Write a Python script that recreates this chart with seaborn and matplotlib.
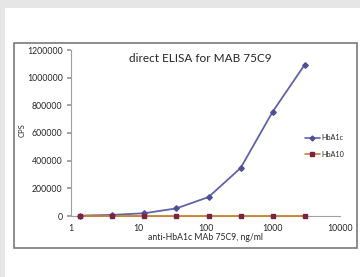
import pandas as pd
import matplotlib
matplotlib.use("Agg")
import matplotlib.pyplot as plt
import seaborn as sns
from matplotlib.lines import Line2D

# concentrations (ng/ml), threefold dilution series
conc = [1.37, 4.12, 12.3, 37.0, 111, 333, 1000, 3000]
hba1c = [3000, 8000, 20000, 55000, 137000, 347000, 755000, 1095000]
hba10 = [2000, 2000, 2000, 2000, 2000, 2000, 2000, 2000]
series_names = ["HbA1c", "HbA10"]
x_ticks = [1, 10, 100, 1000, 10000]
y_ticks = [0, 200000, 400000, 600000, 800000, 1000000, 1200000]

df = pd.DataFrame({
    "conc": conc * 2,
    "cps": hba1c + hba10,
    "series": [series_names[0]] * len(conc) + [series_names[1]] * len(conc),
})

sns.set_theme(style="white")
plt.rcParams["font.family"] = ["Lato", "DejaVu Sans"]

fig = plt.figure(figsize=(3.6, 2.77), dpi=100)
fig.patch.set_facecolor("#e6e6e6")
# white panel behind everything, chart border on top
fig.patches.append(plt.Rectangle((5 / 360, 0), 1, 1 - 8 / 277, transform=fig.transFigure,
                                 facecolor="white", edgecolor="none", zorder=-5))
fig.patches.append(plt.Rectangle((14 / 360, 1 - 248 / 277), 343 / 360, 205 / 277,
                                 transform=fig.transFigure, facecolor="none",
                                 edgecolor="#7a7a7a", linewidth=1.2, zorder=5))

ax = fig.add_axes([71 / 360, 1 - 216 / 277, 269 / 360, 166 / 277])
ax.set_facecolor("none")

palette = {"HbA1c": "#6063a8", "HbA10": "#c8842f"}
sns.lineplot(data=df, x="conc", y="cps", hue="series", palette=palette,
             linewidth=1.3, ax=ax, legend=False, clip_on=False, zorder=3)
# markers drawn separately so HbA10 squares get their own darker colour
ax.plot(conc, hba1c, linestyle="none", marker="D", markersize=2.8, color="#4f4f96",
        clip_on=False, zorder=4)
ax.plot(conc, hba10, linestyle="none", marker="s", markersize=3.5, color="#7d2242",
        clip_on=False, zorder=4)

ax.set_xscale("log")
ax.set_xlim(1, 10000)
ax.set_ylim(0, 1200000)
ax.set_xticks(x_ticks)
ax.set_xticklabels([str(t) for t in x_ticks])
ax.minorticks_off()
ax.set_yticks(y_ticks)
ax.set_yticklabels([str(t) for t in y_ticks])
ax.tick_params(axis="y", labelsize=6.3, length=3, direction="out", color="#999999",
               pad=3, left=True)
ax.tick_params(axis="x", labelsize=6.3, length=0, pad=6)

for s in ["top", "right"]:
    ax.spines[s].set_visible(False)
for s in ["left", "bottom"]:
    ax.spines[s].set_color("#a0a0a0")
    ax.spines[s].set_linewidth(0.8)

ax.set_xlabel("anti-HbA1c MAb 75C9, ng/ml", fontsize=6.2, labelpad=0)
ax.set_ylabel("CPS", fontsize=5.5, labelpad=6)
ax.yaxis.set_label_coords(-0.17, 0.52)
ax.xaxis.set_label_coords(0.5, -0.10)

fig.text(200 / 360, 1 - 58 / 277, "direct ELISA for MAB 75C9", fontsize=8.5,
         ha="center", va="center")

# legend at the right like the original
handles = [
    Line2D([], [], color="#6063a8", marker="D", markersize=2.5, linewidth=1.2,
           markerfacecolor="#4f4f96", markeredgecolor="#4f4f96"),
    Line2D([], [], color="#c8842f", marker="s", markersize=3.2, linewidth=1.2,
           markerfacecolor="#7d2242", markeredgecolor="#7d2242"),
]
fig.legend(handles, series_names, loc="center left",
           bbox_to_anchor=(298 / 360, 1 - 146 / 277), frameon=False, fontsize=5.2,
           handlelength=2.2, handletextpad=0.2, labelspacing=1.3)

fig.savefig("out.png", dpi=100)
